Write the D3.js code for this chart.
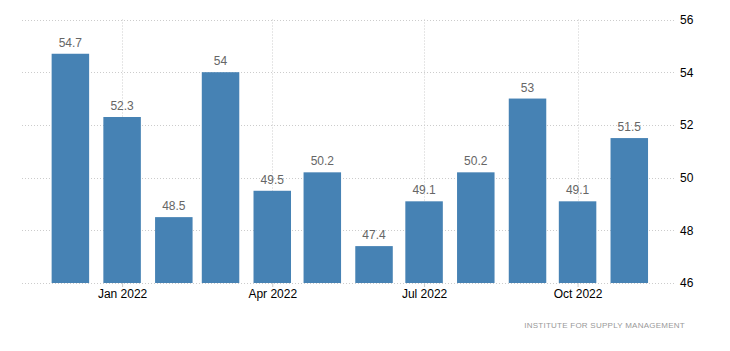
<!DOCTYPE html>
<html>
<head>
<meta charset="utf-8">
<script src="https://cdn.jsdelivr.net/npm/d3@7"></script>
<style>
  body { margin: 0; background: #fff; }
  svg { display: block; font-family: "Liberation Sans", Arial, sans-serif; }
</style>
</head>
<body>
<div id="chart"></div>
<script>
// months (first of month) and PMI values
var months = ["2021-12", "2022-01", "2022-02", "2022-03", "2022-04", "2022-05",
              "2022-06", "2022-07", "2022-08", "2022-09", "2022-10", "2022-11"];
var values = [54.7, 52.3, 48.5, 54, 49.5, 50.2, 47.4, 49.1, 50.2, 53, 49.1, 51.5];
var xTicks = ["2022-01", "2022-04", "2022-07", "2022-10"];
var yTicks = [46, 48, 50, 52, 54, 56];
var source = "INSTITUTE FOR SUPPLY MANAGEMENT";

var width = 730;
var height = 351;
var plotLeft = 22, plotRight = 676, plotTop = 19.5, plotBottom = 283;
var barWidth = 37.5;

var parseMonth = d3.timeParse("%Y-%m");
var data = months.map(function (m, i) {
  return { date: parseMonth(m), value: values[i] };
});

/* Scales */
var xScale = d3.scaleTime()
  .domain([new Date(2021, 10, 2), new Date(2022, 10, 29)])
  .range([plotLeft, plotRight]);

var yScale = d3.scaleLinear()
  .domain([46, 56])
  .range([plotBottom, plotTop]);

var svg = d3.select("#chart")
  .append("svg")
  .attr("width", width)
  .attr("height", height);

/* Grid */
var grid = svg.append("g").attr("class", "grid");

grid.selectAll(".hgrid")
  .data(yTicks)
  .enter()
  .append("line")
  .attr("x1", plotLeft)
  .attr("x2", plotRight)
  .attr("y1", (d) => Math.round(yScale(d)) + 0.5)
  .attr("y2", (d) => Math.round(yScale(d)) + 0.5)
  .style("stroke", "#cccccc")
  .style("stroke-dasharray", "1,2");

grid.selectAll(".vgrid")
  .data(xTicks.map(parseMonth))
  .enter()
  .append("line")
  .attr("x1", (d) => Math.round(xScale(d)) + 0.5)
  .attr("x2", (d) => Math.round(xScale(d)) + 0.5)
  .attr("y1", plotTop)
  .attr("y2", plotBottom)
  .style("stroke", "#cccccc")
  .style("stroke-dasharray", "1,2");

/* Bars */
svg.append("g")
  .selectAll("rect")
  .data(data)
  .enter()
  .append("rect")
  .attr("x", (d) => xScale(d.date) - barWidth / 2)
  .attr("width", barWidth)
  .attr("y", (d) => yScale(d.value))
  .attr("height", (d) => yScale(46) - yScale(d.value))
  .style("fill", "#4682b4");

/* Value labels */
svg.append("g")
  .selectAll("text")
  .data(data)
  .enter()
  .append("text")
  .attr("x", (d) => xScale(d.date))
  .attr("y", (d) => yScale(d.value) - 7)
  .attr("text-anchor", "middle")
  .style("font-size", "12px")
  .style("fill", "#666666")
  .text((d) => d.value);

/* X axis */
var xAxis = d3.axisBottom(xScale)
  .tickValues(xTicks.map(parseMonth))
  .tickFormat(d3.timeFormat("%b %Y"))
  .tickSize(4)
  .tickSizeOuter(0);

var gx = svg.append("g")
  .attr("transform", `translate(0, ${Math.round(plotBottom)})`)
  .call(xAxis);
gx.select(".domain").remove();
gx.selectAll(".tick line").style("stroke", "#cccccc");
gx.selectAll(".tick text")
  .attr("dy", "0.71em")
  .attr("y", 6)
  .style("font-size", "12px")
  .style("font-family", "Liberation Sans, Arial, sans-serif")
  .style("fill", "#000");

/* Y axis */
var yAxis = d3.axisRight(yScale)
  .tickValues(yTicks)
  .tickSize(0)
  .tickPadding(4);

var gy = svg.append("g")
  .attr("transform", `translate(${plotRight}, 0)`)
  .call(yAxis);
gy.select(".domain").remove();
gy.selectAll(".tick text")
  .style("font-size", "12px")
  .style("font-family", "Liberation Sans, Arial, sans-serif")
  .style("fill", "#000");

/* Source */
svg.append("text")
  .attr("x", 685)
  .attr("y", 328)
  .attr("text-anchor", "end")
  .style("font-size", "8px")
  .style("letter-spacing", "0.25px")
  .style("fill", "#999999")
  .text(source);
</script>
</body>
</html>
